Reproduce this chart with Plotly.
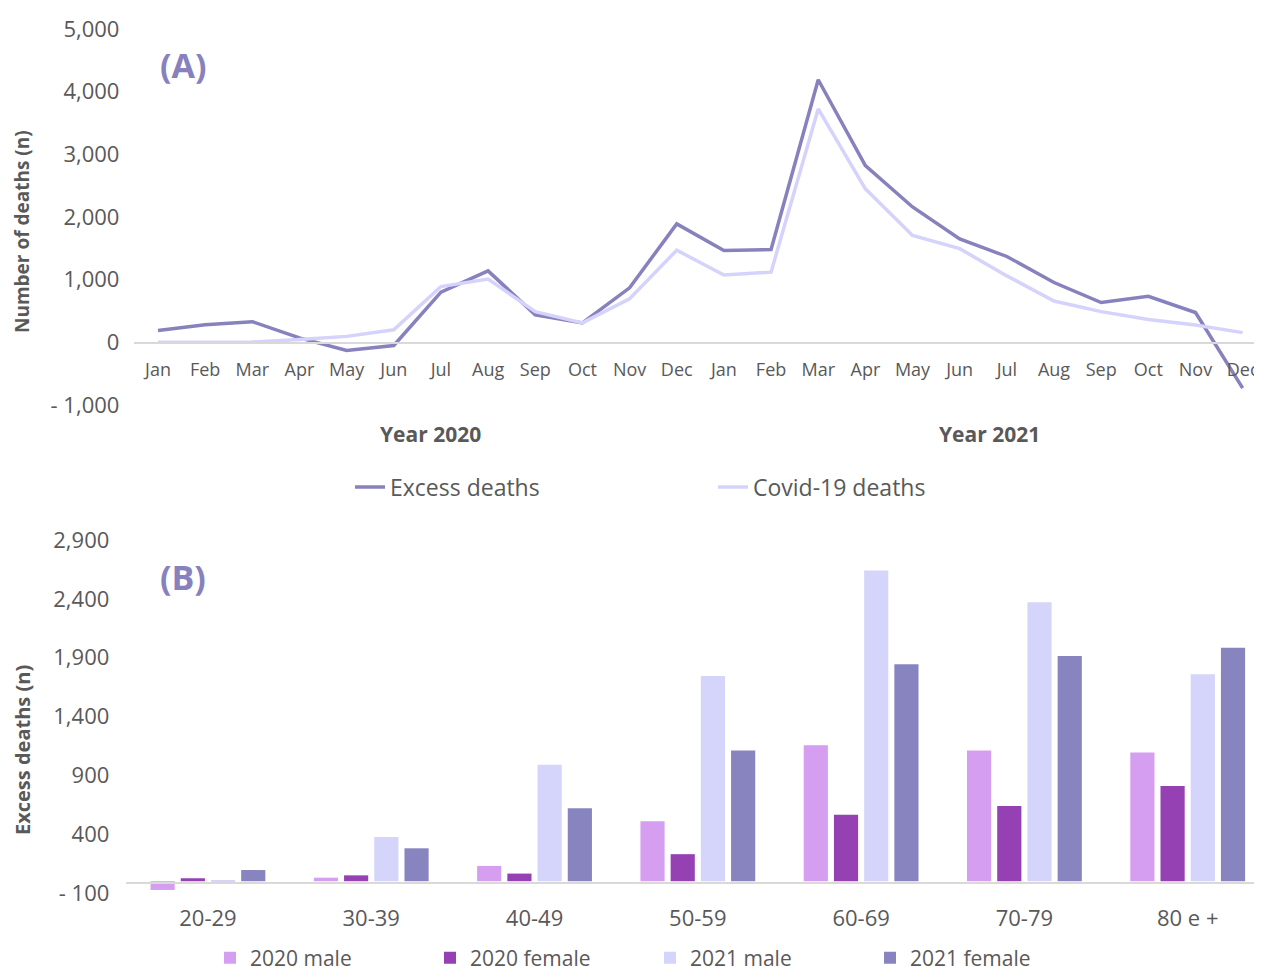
import plotly.graph_objects as go

# ---- Panel A data ----
months = ["Jan", "Feb", "Mar", "Apr", "May", "Jun", "Jul", "Aug", "Sep", "Oct", "Nov", "Dec"]
month_labels = months + months
excess_deaths = [190, 280, 330, 70, -130, -50, 800, 1140, 440, 310, 870, 1890,
                 1465, 1480, 4190, 2820, 2160, 1650, 1370, 955, 635, 735, 475, -730]
covid_deaths = [0, 0, 5, 45, 95, 200, 890, 1010, 490, 310, 695, 1470,
                1075, 1120, 3725, 2450, 1705, 1495, 1060, 660, 490, 365, 275, 155]
yA_vals = [-1000, 0, 1000, 2000, 3000, 4000, 5000]
yA_text = ["- 1,000", "0", "1,000", "2,000", "3,000", "4,000", "5,000"]

# ---- Panel B data ----
age_groups = ["20-29", "30-39", "40-49", "50-59", "60-69", "70-79", "80 e +"]
male_2020 = [-75, 30, 130, 510, 1155, 1110, 1095]
female_2020 = [25, 50, 65, 230, 565, 640, 810]
male_2021 = [5, 375, 990, 1745, 2640, 2370, 1760]
female_2021 = [95, 280, 620, 1110, 1845, 1915, 1985]
yB_vals = [-100, 400, 900, 1400, 1900, 2400, 2900]
yB_text = ["- 100", "400", "900", "1,400", "1,900", "2,400", "2,900"]

# page body has an 8px margin, so the figure occupies the window minus 8px
OFF = 8
W, H = 1262 - OFF, 972 - OFF
FONT = "Open Sans"
GRAY = "#595959"

x_idx = list(range(len(month_labels)))

fig = go.Figure()
fig.add_trace(go.Scatter(x=x_idx, y=excess_deaths, mode="lines", name="Excess deaths",
                         line=dict(color="#8781BD", width=3.5), xaxis="x", yaxis="y",
                         legend="legend"))
fig.add_trace(go.Scatter(x=x_idx, y=covid_deaths, mode="lines", name="Covid-19 deaths",
                         line=dict(color="#D5D3FB", width=3.5), xaxis="x", yaxis="y",
                         legend="legend"))

bar_series = [("2020 male", male_2020, "#D59EF0"),
              ("2020 female", female_2020, "#9540B3"),
              ("2021 male", male_2021, "#D5D4FB"),
              ("2021 female", female_2021, "#8884BF")]
for name, vals, col in bar_series:
    fig.add_trace(go.Bar(x=age_groups, y=vals, name=name, marker=dict(color=col, line=dict(width=0)),
                         xaxis="x2", yaxis="y2", legend="legend2"))

def py(p):  # window pixel y -> paper
    return 1 - (p - OFF) / H

def px(p):
    return (p - OFF) / W

fig.update_layout(
    width=W, height=H,
    margin=dict(l=0, r=0, t=0, b=0, autoexpand=False),
    paper_bgcolor="white", plot_bgcolor="white",
    font=dict(family=FONT, color=GRAY),
    barmode="group", bargap=0.26, bargroupgap=0.2,
    showlegend=True,
    xaxis=dict(domain=[px(134.4), 1], range=[-0.5, 23.41], anchor="free", position=py(343),
               tickmode="array", tickvals=x_idx, ticktext=month_labels, automargin=False,
               ticklabeloverflow="allow",
               showgrid=False, zeroline=False, showline=True, linecolor="#D9D9D9", linewidth=1.5,
               ticks="", ticklabelstandoff=11, tickfont=dict(size=18, color=GRAY)),
    yaxis=dict(domain=[py(405), py(29)], range=[-1000, 5000], anchor="x", automargin=False,
               tickmode="array", tickvals=yA_vals, ticktext=yA_text,
               showgrid=False, zeroline=False, showline=False, ticks="",
               ticklabelstandoff=14, tickfont=dict(size=22, color=GRAY)),
    xaxis2=dict(domain=[px(126.3), 1], range=[-0.5, 6.455], anchor="free", position=py(883),
                automargin=False,
                showgrid=False, zeroline=False, showline=True, linecolor="#D9D9D9", linewidth=1.5,
                ticks="", ticklabelstandoff=16, tickfont=dict(size=22, color=GRAY)),
    yaxis2=dict(domain=[py(893), py(540)], range=[-100, 2900], anchor="x2", automargin=False,
                tickmode="array", tickvals=yB_vals, ticktext=yB_text,
                showgrid=False, zeroline=False, showline=False, ticks="",
                ticklabelstandoff=16, tickfont=dict(size=22, color=GRAY)),
    legend=dict(orientation="h", x=px(350), y=py(487), xanchor="left", yanchor="middle",
                entrywidth=318, entrywidthmode="pixels", font=dict(size=23, color=GRAY),
                bgcolor="rgba(0,0,0,0)"),
    legend2=dict(orientation="h", x=px(210), y=py(958), xanchor="left", yanchor="middle",
                 entrywidth=175, entrywidthmode="pixels", font=dict(size=21, color=GRAY),
                 bgcolor="rgba(0,0,0,0)"),
)

annotations = [
    dict(text="<b>(A)</b>", x=px(183), y=py(65), font=dict(size=34, color="#8781BD")),
    dict(text="<b>(B)</b>", x=px(183), y=py(577), font=dict(size=34, color="#8781BD")),
    dict(text="<b>Year 2020</b>", x=px(430), y=py(434), font=dict(size=21, color=GRAY)),
    dict(text="<b>Year 2021</b>", x=px(989), y=py(434), font=dict(size=21, color=GRAY)),
    dict(text="<b>Number of deaths (n)</b>", x=px(22), y=py(232), textangle=-90,
         font=dict(size=19, color=GRAY)),
    dict(text="<b>Excess deaths (n)</b>", x=px(22), y=py(750), textangle=-90,
         font=dict(size=20, color=GRAY)),
]
for a in annotations:
    a.update(xref="paper", yref="paper", showarrow=False, xanchor="center", yanchor="middle")
fig.update_layout(annotations=annotations)

fig.write_html("out.html")
